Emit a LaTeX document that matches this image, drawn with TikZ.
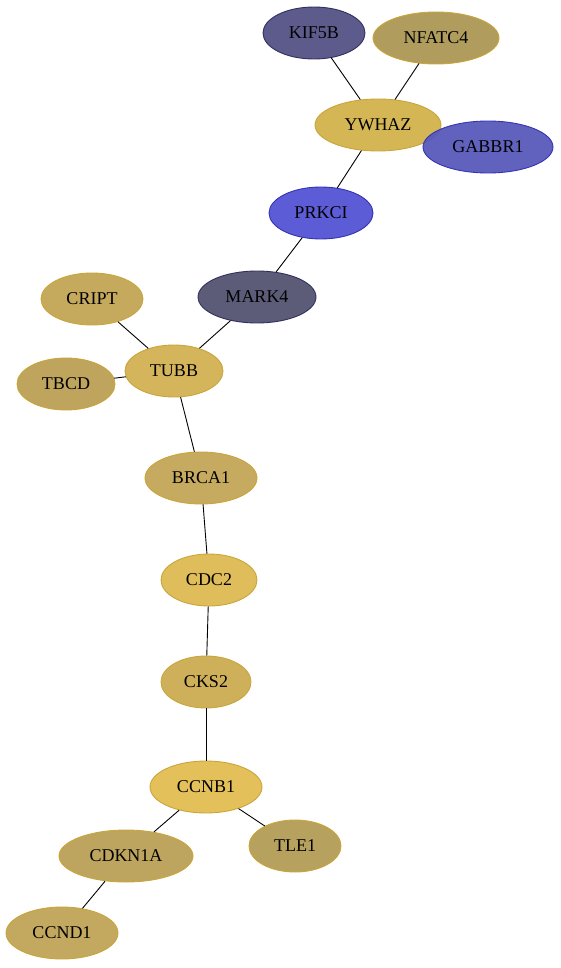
\documentclass[tikz,border=0pt]{standalone}
\usepackage{fontspec}
\setmainfont{Liberation Serif}
\usepackage{tikz}
\usetikzlibrary{shapes.geometric}
\definecolor{cgold}{HTML}{C9A53A}
\definecolor{cblue}{HTML}{3434B4}
\definecolor{cslate}{HTML}{30305E}
\tikzset{
  gene/.style={ellipse, draw=cgold, line width=0.9pt, minimum height=52pt,
               inner sep=0pt, font=\fontsize{18}{21}\selectfont, text=black},
  link/.style={draw=black, line width=0.9pt},
}
\begin{document}
\begin{tikzpicture}[x=1pt, y=-1pt]
    \useasboundingbox (0,0) rectangle (560,968);
    % top cluster
    \node[gene, fill={rgb,255:red,93;green,91;blue,140}, draw=cslate, minimum width=102pt] (kif5b) at (314, 33) {KIF5B};
    \node[gene, fill={rgb,255:red,176;green,157;blue,93}, minimum width=126pt] (nfatc4) at (436, 38) {NFATC4};
    \node[gene, fill={rgb,255:red,213;green,182;blue,85}, minimum width=126pt] (ywhaz) at (378, 125) {YWHAZ};
    \node[gene, fill={rgb,255:red,88;green,88;blue,186}, fill opacity=0.95, text opacity=1, draw=cblue, minimum width=130pt] (gabbr1) at (488, 147) {GABBR1};
    \node[gene, fill={rgb,255:red,92;green,92;blue,214}, draw=cblue, minimum width=104pt] (prkci) at (321, 213) {PRKCI};
    \node[gene, fill={rgb,255:red,92;green,92;blue,120}, draw=cslate, minimum width=118pt] (mark4) at (257, 297) {MARK4};
    % middle
    \node[gene, fill={rgb,255:red,197;green,170;blue,94}, minimum width=102pt] (cript) at (92, 299) {CRIPT};
    \node[gene, fill={rgb,255:red,212;green,181;blue,91}, minimum width=98pt] (tubb) at (174, 371) {TUBB};
    \node[gene, fill={rgb,255:red,191;green,164;blue,94}, minimum width=98pt] (tbcd) at (66, 384) {TBCD};
    \node[gene, fill={rgb,255:red,198;green,170;blue,95}, minimum width=112pt] (brca1) at (201, 478) {BRCA1};
    \node[gene, fill={rgb,255:red,223;green,189;blue,90}, minimum width=96pt] (cdc2) at (209, 580) {CDC2};
    \node[gene, fill={rgb,255:red,207;green,176;blue,90}, minimum width=90pt] (cks2) at (206, 682) {CKS2};
    % bottom
    \node[gene, fill={rgb,255:red,227;green,192;blue,90}, minimum width=112pt] (ccnb1) at (206, 787) {CCNB1};
    \node[gene, fill={rgb,255:red,183;green,161;blue,94}, minimum width=92pt] (tle1) at (295, 846) {TLE1};
    \node[gene, fill={rgb,255:red,190;green,165;blue,95}, minimum width=134pt] (cdkn1a) at (126, 856) {CDKN1A};
    \node[gene, fill={rgb,255:red,195;green,168;blue,95}, minimum width=112pt] (ccnd1) at (62, 933) {CCND1};

    \draw[link] (kif5b) -- (ywhaz);
    \draw[link] (nfatc4) -- (ywhaz);
    \draw[link] (ywhaz) -- (prkci);
    \draw[link] (prkci) -- (mark4);
    \draw[link] (mark4) -- (tubb);
    \draw[link] (cript) -- (tubb);
    \draw[link] (tbcd) -- (tubb);
    \draw[link] (tubb) -- (brca1);
    \draw[link] (brca1) -- (cdc2);
    \draw[link] (cdc2) -- (cks2);
    \draw[link] (cks2) -- (ccnb1);
    \draw[link] (ccnb1) -- (cdkn1a);
    \draw[link] (ccnb1) -- (tle1);
    \draw[link] (cdkn1a) -- (ccnd1);
  \end{tikzpicture}
\end{document}
